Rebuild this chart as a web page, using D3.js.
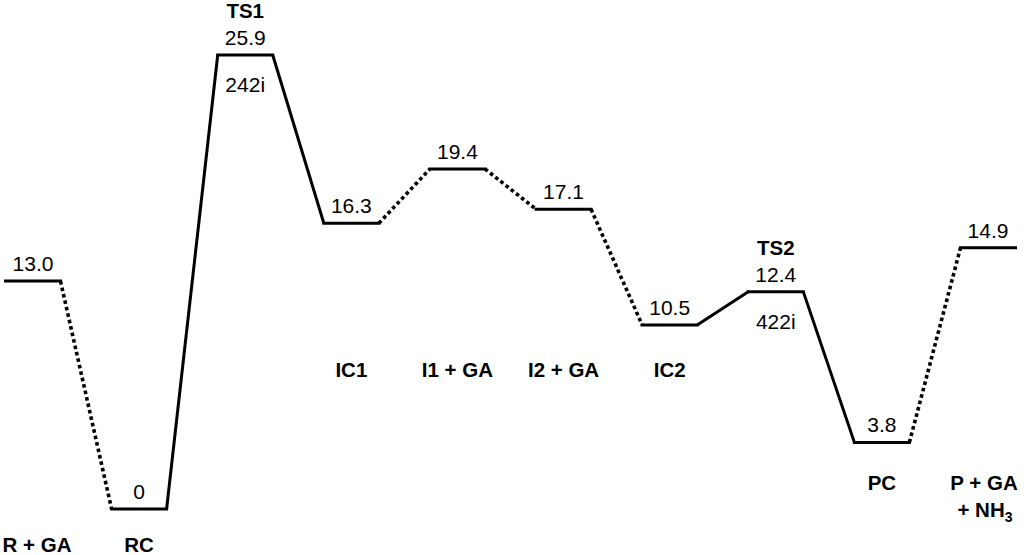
<!DOCTYPE html>
<html>
<head>
<meta charset="utf-8">
<script src="https://cdn.jsdelivr.net/npm/d3@7"></script>
<style>
html,body{margin:0;padding:0;background:#fff;}
svg{display:block;font-family:"Liberation Sans",Arial,sans-serif;}
</style>
</head>
<body>
<svg id="chart" width="1024" height="555"></svg>
<script>
// Data
const species = ["R + GA", "RC", "TS1", "IC1", "I1 + GA", "I2 + GA", "IC2", "TS2", "PC", "P + GA"];
const energies = [13.0, 0, 25.9, 16.3, 19.4, 17.1, 10.5, 12.4, 3.8, 14.9];
const energyLabels = ["13.0", "0", "25.9", "16.3", "19.4", "17.1", "10.5", "12.4", "3.8", "14.9"];
const imagFreqs = ["", "", "242i", "", "", "", "", "422i", "", ""];
const connectorStyle = ["dotted", "solid", "solid", "dotted", "dotted", "dotted", "solid", "solid", "dotted"];

const svg = d3.select("#chart");
const x = d3.scalePoint().domain(d3.range(species.length)).range([33, 988]);
const y = d3.scaleLinear().domain([0, 25.9]).range([509, 55]);
const half = 27.5;

// Connectors
const links = d3.range(species.length - 1).map(i => ({i, style: connectorStyle[i]}));
svg.selectAll("line.link").data(links).join("line")
  .attr("class", "link")
  .attr("x1", d => x(d.i) + half)
  .attr("y1", d => y(energies[d.i]))
  .attr("x2", d => x(d.i + 1) - half)
  .attr("y2", d => y(energies[d.i + 1]))
  .attr("stroke", "#000")
  .attr("stroke-width", d => d.style === "dotted" ? 3.6 : 3)
  .attr("stroke-dasharray", d => d.style === "dotted" ? "3.6,3" : null);

// Levels
svg.selectAll("line.level").data(energies).join("line")
  .attr("class", "level")
  .attr("x1", (d, i) => x(i) - half)
  .attr("x2", (d, i) => x(i) + half)
  .attr("y1", d => y(d))
  .attr("y2", d => y(d))
  .attr("stroke", "#000")
  .attr("stroke-width", 3)
  .attr("stroke-linecap", "square");

// Energy values
svg.selectAll("text.val").data(energyLabels).join("text")
  .attr("class", "val")
  .attr("x", (d, i) => x(i))
  .attr("y", (d, i) => y(energies[i]) - 10)
  .attr("text-anchor", "middle")
  .attr("font-size", 21)
  .text(d => d);

// Imaginary frequencies
svg.selectAll("text.freq").data(imagFreqs.map((f, i) => ({f, i})).filter(d => d.f)).join("text")
  .attr("class", "freq")
  .attr("x", d => x(d.i))
  .attr("y", d => y(energies[d.i]) + 37)
  .attr("text-anchor", "middle")
  .attr("font-size", 21)
  .text(d => d.f);

// Species names (layout by index)
const nameY = i => {
  if (i === 0 || i === 1) return 552;
  if (i === 2 || i === 7) return y(energies[i]) - 37;
  if (i === 8 || i === 9) return 490;
  return 377;
};
const nameDx = i => (i === 0 ? 4 : i === 9 ? -4 : 0);
svg.selectAll("text.name").data(species).join("text")
  .attr("class", "name")
  .attr("x", (d, i) => x(i) + nameDx(i))
  .attr("y", (d, i) => nameY(i))
  .attr("text-anchor", "middle")
  .attr("font-size", 20.5)
  .attr("font-weight", "bold")
  .text(d => d);

// "+ NH3" second line
const nh = svg.append("text")
  .attr("x", x(9) - 3)
  .attr("y", 517)
  .attr("text-anchor", "middle")
  .attr("font-size", 20.5)
  .attr("font-weight", "bold");
nh.append("tspan").text("+ NH");
nh.append("tspan").attr("font-size", 14).attr("dy", 5).text("3");
</script>
</body>
</html>
